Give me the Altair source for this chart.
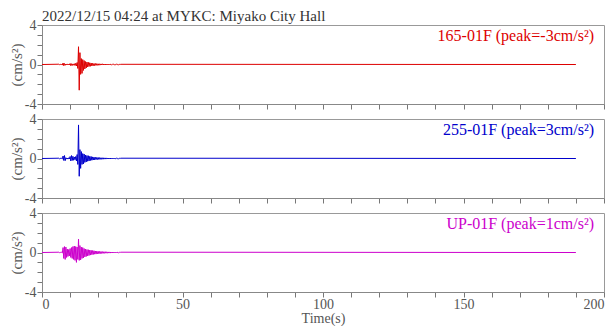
import altair as alt
import pandas as pd
import numpy as np

TITLE = "2022/12/15 04:24 at MYKC: Miyako City Hall"
LABELS = ["165-01F (peak=-3cm/s²)", "255-01F (peak=3cm/s²)", "UP-01F (peak=1cm/s²)"]
COLORS = ["#dd0000", "#0000cc", "#cc00cc"]

# sample times (s): start, event window at 0.25 s spacing, end
grid = list(np.round(np.arange(6.0, 28.001, 0.25), 2))
times = [0.0] + grid + [190.0]

acc_165 = [0.0,
    0.03, -0.03, 0.04, -0.03, 0.05, -0.06,
    0.15, -0.12, 0.1, -0.08,
    0.05, -0.05, 0.06, -0.04, 0.05, -0.05,
    0.1, -0.12, 0.08, -0.1, 0.06, -0.07,
    0.08, -0.1, 0.12, -0.15, 0.2, -0.4,
    1.8, -2.6,
    1.2, -1.0, 0.6, -0.9, 0.5, -0.6,
    0.4, -0.45, 0.3, -0.35, 0.25, -0.25,
    0.22, -0.2, 0.18, -0.18, 0.15, -0.15,
    0.12, -0.12, 0.1, -0.12, 0.1, -0.09,
    0.09, -0.08, 0.07, -0.08, 0.07, -0.06,
    0.06, -0.05, 0.07, -0.05, 0.05, -0.05,
    0.05, -0.05, 0.04, -0.05, 0.04, -0.04,
    0.04, -0.04, 0.04, -0.03, 0.04, -0.03,
    0.03, -0.03, 0.03, -0.03, 0.03, -0.03,
    0.03, -0.03, 0.02, -0.03, 0.02,
    0.0]

acc_255 = [0.0,
    0.03, -0.03, 0.03, -0.04, 0.04, -0.03,
    0.25, -0.2, 0.3, -0.22,
    0.08, -0.06, 0.05, -0.06, 0.07, -0.05,
    0.2, -0.25, 0.3, -0.2, 0.22, -0.18,
    0.15, -0.12, 0.2, -0.25, 0.4, -0.6,
    3.4, -1.8,
    0.9, -1.0, 0.7, -0.6, 0.5, -0.55,
    0.45, -0.4, 0.35, -0.35, 0.3, -0.28,
    0.28, -0.25, 0.22, -0.2, 0.2, -0.18,
    0.16, -0.15, 0.14, -0.14, 0.12, -0.11,
    0.11, -0.1, 0.1, -0.1, 0.09, -0.08,
    0.08, -0.08, 0.07, -0.07, 0.07, -0.06,
    0.06, -0.06, 0.06, -0.05, 0.05, -0.05,
    0.05, -0.05, 0.05, -0.04, 0.04, -0.04,
    0.04, -0.04, 0.04, -0.03, 0.03, -0.04,
    0.03, -0.03, 0.03, -0.03, 0.03,
    0.0]

acc_up = [0.0,
    0.03, -0.03, 0.04, -0.03, 0.03, -0.04,
    0.5, -0.6, 0.6, -0.7,
    0.55, -0.5, 0.35, -0.4, 0.3, -0.35,
    0.4, -0.5, 0.5, -0.6, 0.6, -0.7,
    0.65, -0.8, 0.6, -1.0, 0.55, -0.7,
    1.35, -0.8,
    0.7, -0.75, 0.55, -0.6, 0.5, -0.55,
    0.4, -0.45, 0.35, -0.4, 0.3, -0.35,
    0.28, -0.3, 0.25, -0.26, 0.22, -0.22,
    0.2, -0.2, 0.18, -0.17, 0.15, -0.16,
    0.14, -0.13, 0.12, -0.13, 0.11, -0.11,
    0.1, -0.1, 0.09, -0.09, 0.08, -0.08,
    0.08, -0.07, 0.07, -0.07, 0.06, -0.06,
    0.06, -0.06, 0.05, -0.05, 0.05, -0.05,
    0.05, -0.04, 0.04, -0.04, 0.04, -0.04,
    0.04, -0.03, 0.03, -0.03, 0.03,
    0.0]

x_ticks = list(range(0, 201, 10))
y_ticks = [-4, -3, -2, -1, 0, 1, 2, 3, 4]

FONT = "Liberation Serif"
W, H = 562, 79


def panel(values, label, color, last=False, first=False):
    df = pd.DataFrame({"t": times, "a": values})
    xaxis = alt.Axis(values=x_ticks, labels=last, title="Time(s)" if last else None,
                     labelExpr="datum.value % 50 == 0 ? datum.label : ''",
                     grid=False, tickSize=5, labelPadding=0, titlePadding=0)
    line = alt.Chart(df).mark_line(color=color, strokeWidth=1, clip=True).encode(
        x=alt.X("t:Q", scale=alt.Scale(domain=[0, 200], nice=False), axis=xaxis),
        y=alt.Y("a:Q", scale=alt.Scale(domain=[-4, 4], nice=False),
                axis=alt.Axis(values=y_ticks, title="(cm/s²)", grid=False, tickSize=5,
                              labelExpr="abs(datum.value) % 4 == 0 ? (datum.value < 0 ? '-' + abs(datum.value) : '' + datum.value) : ''",
                              labelPadding=1, titlePadding=0, titleFontSize=15)),
    )
    txt = alt.Chart(pd.DataFrame({"l": [label]})).mark_text(
        align="right", baseline="top", font=FONT, fontSize=16, color=color
    ).encode(x=alt.value(W - 10), y=alt.value(3), text="l:N")
    layers = [line, txt]
    if first:
        ttl = alt.Chart(pd.DataFrame({"l": [TITLE]})).mark_text(
            align="left", baseline="alphabetic", font=FONT, fontSize=15, color="#333333"
        ).encode(x=alt.value(0), y=alt.value(-4), text="l:N")
        layers.append(ttl)
    return alt.layer(*layers).properties(width=W, height=H)


chart = alt.vconcat(
    panel(acc_165, LABELS[0], COLORS[0], first=True),
    panel(acc_255, LABELS[1], COLORS[1]),
    panel(acc_up, LABELS[2], COLORS[2], last=True),
    spacing=15,
    bounds="flush",
).properties(padding=0).configure_view(stroke="#999999", strokeWidth=1).configure_axis(
    labelFont=FONT, labelFontSize=14, labelColor="#555555",
    titleFont=FONT, titleFontSize=14, titleFontWeight="normal", titleColor="#555555",
    domainColor="#888888", tickColor="#777777",
)

chart.save("out.html", embed_options={"renderer": "svg", "actions": False})
